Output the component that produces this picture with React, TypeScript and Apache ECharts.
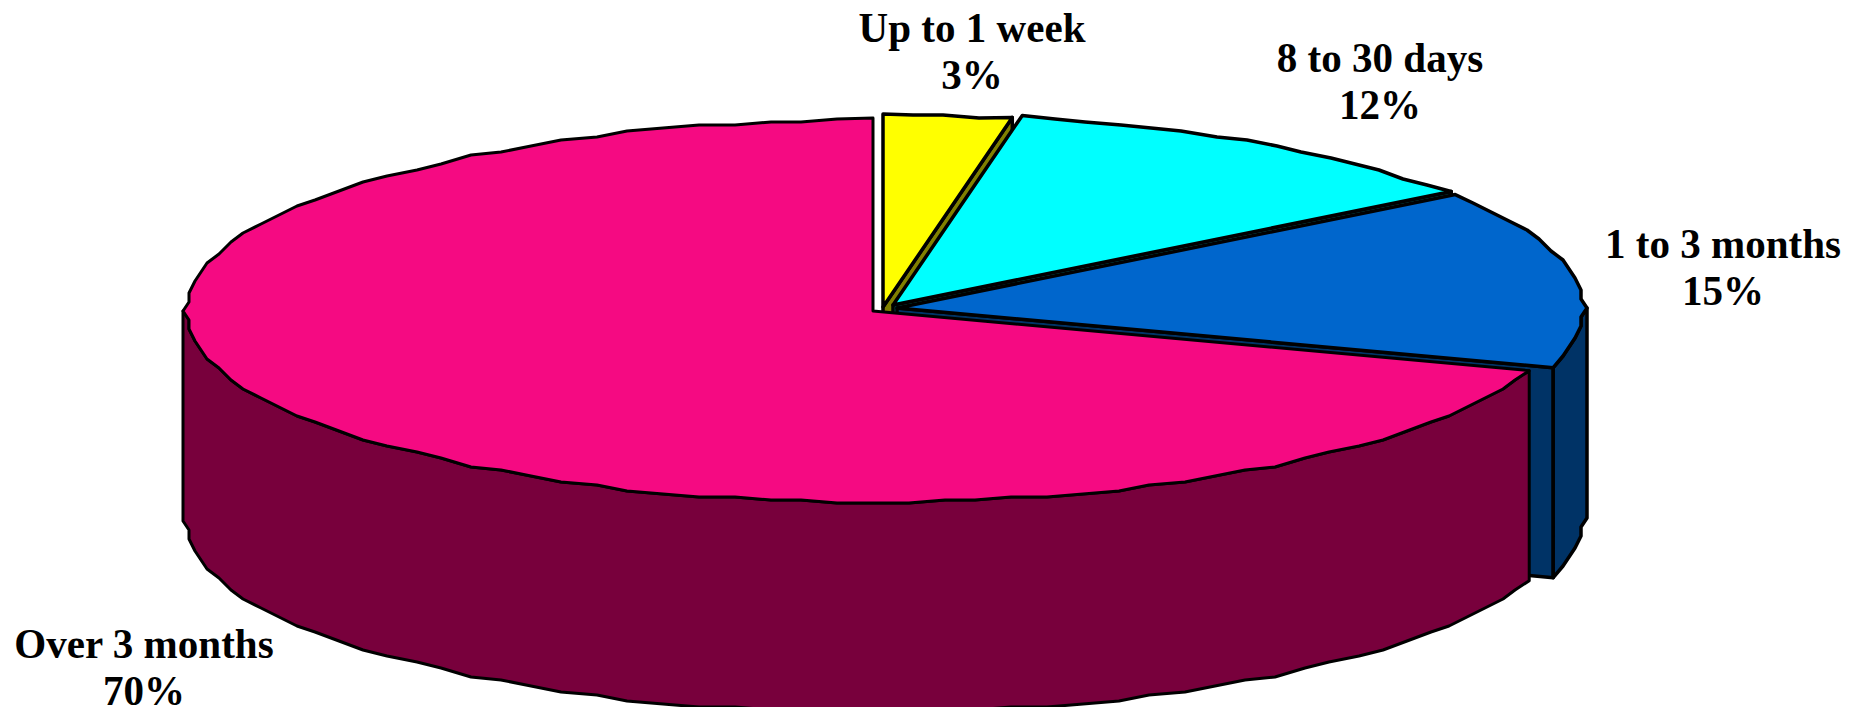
import React, { useEffect, useRef } from "react";
import * as echarts from "echarts";

const categories = ["Up to 1 week", "8 to 30 days", "1 to 3 months", "Over 3 months"];
const shares = [3, 12, 15, 70];

const topColors = ["#FFFF00", "#00FFFF", "#0066CC", "#F50A82"];
const sideColors = ["#808000", "#008080", "#003366", "#78003C"];
const sliceCentres = [[883, 307], [893, 305], [897, 308], [873, 311]];
const labelCentres = [[972, 51], [1380, 81], [1723, 267], [144, 667]];

const RX = 690;
const RY = 193;
const DEPTH = 210;
const LINE = "#000000";
const GRID_X = 6;
const GRID_Y = 3;
const STEP_DEG = 3;
const total = shares.reduce((a, b) => a + b, 0);

function pt(c: number[], deg: number, dy = 0) {
  const r = (deg * Math.PI) / 180;
  return [c[0] + RX * Math.sin(r), c[1] - RY * Math.cos(r) + dy];
}

// The rim is a coarse, slightly stepped outline: its points sit on a small grid
function arcPts(c: number[], from: number, to: number, dy = 0) {
  const out: number[][] = [];
  const n = Math.max(2, Math.ceil((to - from) / STEP_DEG));
  for (let i = 0; i <= n; i++) {
    const p = pt(c, from + ((to - from) * i) / n);
    const q =
      i === 0 || i === n
        ? p
        : [
            c[0] + Math.sign(p[0] - c[0]) * Math.floor(Math.abs(p[0] - c[0]) / GRID_X) * GRID_X,
            c[1] + Math.sign(p[1] - c[1]) * Math.floor(Math.abs(p[1] - c[1]) / GRID_Y) * GRID_Y,
          ];
    const last = out[out.length - 1];
    if (!last || last[0] !== q[0] || last[1] !== q[1] + dy) out.push([q[0], q[1] + dy]);
  }
  return out;
}

function poly(points: number[][], fill: string, lw: number) {
  return {
    type: "polygon",
    shape: { points },
    style: { fill, stroke: LINE, lineWidth: lw, lineJoin: "round" },
    silent: true,
  };
}

function renderItem(params: any, api: any) {
  const i = params.dataIndex;
  const value = api.value(0);
  const before = shares.slice(0, i).reduce((a, b) => a + b, 0);
  const from = (before / total) * 360;
  const to = from + (value / total) * 360;
  const c = sliceCentres[i];
  const lw = i === 3 ? 3 : 3.5;
  const children: any[] = [];

  // Cut face at the slice's clockwise end, visible when it looks towards the viewer
  if (to < 180) {
    const e = pt(c, to);
    children.push(poly([c, e, [e[0], e[1] + DEPTH], [c[0], c[1] + DEPTH]], sideColors[i], lw));
  }
  // Outer wall: the part of the rim on the near half of the ellipse
  const wallFrom = Math.max(from, 90);
  const wallTo = Math.min(to, 270);
  if (wallTo > wallFrom) {
    const top = arcPts(c, wallFrom, wallTo);
    const bottom = arcPts(c, wallFrom, wallTo, DEPTH).reverse();
    children.push(poly([...top, ...bottom], sideColors[i], lw));
  }
  // Top face
  children.push(poly([c, ...arcPts(c, from, to)], topColors[i], lw));

  return { type: "group", children };
}

function labelItem(params: any, api: any) {
  const i = params.dataIndex;
  return {
    type: "text",
    x: labelCentres[i][0],
    y: labelCentres[i][1],
    scaleX: 0.955,
    silent: true,
    style: {
      text: `${categories[i]}\n${api.value(0)}%`,
      fontFamily: "Liberation Serif",
      fontWeight: "bold",
      fontSize: 43,
      lineHeight: 47,
      fill: "#000000",
      align: "center",
      verticalAlign: "middle",
    },
  };
}

export default function App() {
  const ref = useRef<HTMLDivElement>(null);
  useEffect(() => {
    document.body.style.margin = "0";
    const chart = echarts.init(ref.current!, undefined, { renderer: "svg" });
    chart.setOption({
      animation: false,
      backgroundColor: "#FFFFFF",
      series: [
        {
          type: "custom",
          coordinateSystem: "none",
          renderItem,
          data: shares.map((v, i) => ({ name: categories[i], value: [v] })),
          z: 1,
        },
        {
          type: "custom",
          coordinateSystem: "none",
          renderItem: labelItem,
          data: shares.map((v, i) => ({ name: categories[i], value: [v] })),
          z: 2,
        },
      ],
    });
    return () => chart.dispose();
  }, []);
  return <div ref={ref} style={{ width: 1866, height: 707, overflow: "hidden" }} />;
}
